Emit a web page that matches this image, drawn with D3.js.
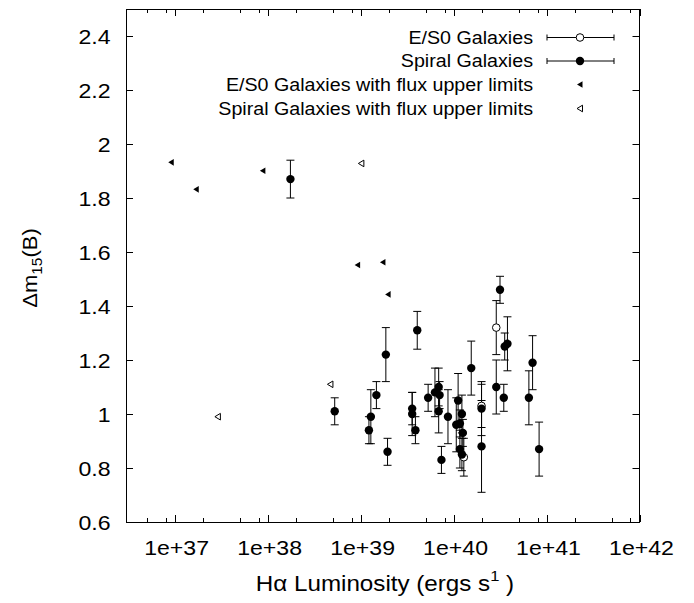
<!DOCTYPE html>
<html><head><meta charset="utf-8">
<script src="https://cdn.jsdelivr.net/npm/d3@7"></script>
<style>body{margin:0;background:#fff}svg{display:block}text{font-family:"Liberation Sans",Arial,Helvetica,sans-serif;fill:#000}</style>
</head><body><svg id="c" width="694" height="603"></svg>
<script>
// ---- data ----
const xTickValues = [1e37, 1e38, 1e39, 1e40, 1e41, 1e42];
const xTickLabels = ["1e+37", "1e+38", "1e+39", "1e+40", "1e+41", "1e+42"];
const yTickValues = [0.6, 0.8, 1.0, 1.2, 1.4, 1.6, 1.8, 2.0, 2.2, 2.4];
const yTickLabels = ["0.6", "0.8", "1", "1.2", "1.4", "1.6", "1.8", "2", "2.2", "2.4"];
const legendLabels = ["E/S0 Galaxies", "Spiral Galaxies", "E/S0 Galaxies with flux upper limits", "Spiral Galaxies with flux upper limits"];

// E/S0 galaxies (open circles): luminosity, dm15, error
const es0L   = [2.88e40, 2.0e40, 1.29e40];
const es0Dm  = [1.32, 1.03, 0.84];
const es0Err = [0.10, 0.08, 0.07];

// Spiral galaxies (filled circles)
const spL = [1.76e38, 5.27e38, 1.29e39, 1.23e39, 1.48e39, 1.87e39, 1.95e39, 3.59e39, 3.59e39, 3.89e39,
             4.07e39, 5.33e39, 6.31e39, 6.92e39, 7.08e39, 6.92e39, 7.41e39, 8.71e39, 1.12e40, 1.07e40,
             1.23e40, 1.17e40, 1.26e40, 1.17e40, 1.23e40, 1.55e40, 2.0e40, 2.0e40, 2.88e40, 3.16e40,
             3.47e40, 3.55e40, 3.8e40, 6.46e40, 7.08e40, 8.32e40];
const spDm = [1.87, 1.01, 0.99, 0.94, 1.07, 1.22, 0.86, 1.02, 1.00, 0.94,
              1.31, 1.06, 1.08, 1.10, 1.07, 1.01, 0.83, 0.99, 1.05, 0.96,
              1.00, 0.965, 0.93, 0.87, 0.85, 1.17, 1.02, 0.88, 1.10, 1.46,
              1.06, 1.25, 1.26, 1.06, 1.19, 0.87];
const spErr = [0.07, 0.05, 0.10, 0.05, 0.05, 0.10, 0.05, 0.06, 0.08, 0.05,
               0.07, 0.05, 0.09, 0.07, 0.05, 0.08, 0.05, 0.10, 0.10, 0.10,
               0.07, 0.05, 0.05, 0.07, 0.06, 0.10, 0.10, 0.17, 0.10, 0.05,
               0.05, 0.05, 0.10, 0.10, 0.10, 0.10];

// E/S0 upper limits (filled left triangles)
const es0UlL  = [9.2e36, 1.71e37, 8.9e37, 9.3e38, 1.74e39, 1.98e39];
const es0UlDm = [1.932, 1.832, 1.901, 1.552, 1.562, 1.443];
// Spiral upper limits (open left triangles)
const spUlL  = [1.02e39, 4.74e38, 2.92e37];
const spUlDm = [1.928, 1.11, 0.99];

// ---- drawing ----
const svg = d3.select("#c");
const L = 126, R = 639.5, T = 9, B = 522;
const x = d3.scaleLog().domain([3e36, 1e42]).range([L, R]);
const y = d3.scaleLinear().domain([0.6, 2.5]).range([B, T]);
const SX = 1.1;

// minor ticks at 2,5,8 of each decade
const minor = [];
for (let e = 36; e <= 41; e++) [2, 5, 8].forEach(m => { const v = m * Math.pow(10, e); if (v > 3e36 && v < 1e42) minor.push(v); });

const axes = svg.append("g").attr("stroke", "#000").attr("stroke-width", 1).attr("fill", "none");
xTickValues.forEach(v => {
  const px = Math.round(x(v)) + 0.5;
  axes.append("line").attr("x1", px).attr("x2", px).attr("y1", B).attr("y2", B - 7);
  axes.append("line").attr("x1", px).attr("x2", px).attr("y1", T).attr("y2", T + 7);
});
minor.forEach(v => {
  const px = Math.round(x(v)) + 0.5;
  axes.append("line").attr("x1", px).attr("x2", px).attr("y1", B).attr("y2", B - 4);
  axes.append("line").attr("x1", px).attr("x2", px).attr("y1", T).attr("y2", T + 4);
});
yTickValues.forEach(v => {
  const py = Math.round(y(v)) + 0.5;
  axes.append("line").attr("x1", L).attr("x2", L + 7).attr("y1", py).attr("y2", py);
  axes.append("line").attr("x1", R).attr("x2", R - 7).attr("y1", py).attr("y2", py);
});
axes.append("rect").attr("x", L + 0.5).attr("y", T + 0.5).attr("width", R - L - 0.5).attr("height", B - T);

function stext(g, tx, ty, str, size, anchor, sx) {
  return g.append("g").attr("transform", `translate(${tx},${ty}) scale(${sx || SX},1)`)
    .append("text").attr("font-size", size).attr("text-anchor", anchor).text(str);
}
const labels = svg.append("g");
xTickValues.forEach((v, i) => stext(labels, x(v) + 2, 555, xTickLabels[i], 21, "middle"));
yTickValues.forEach((v, i) => stext(labels, 110.5, y(v) + 7.5, yTickLabels[i], 21, "end"));

// axis titles
const yl = svg.append("g").attr("transform", `translate(37,268) rotate(-90) scale(${SX},1)`)
  .append("text").attr("font-size", 20).attr("text-anchor", "middle");
yl.append("tspan").text("Δm");
yl.append("tspan").attr("font-size", 14).attr("dy", 5).text("15");
yl.append("tspan").attr("dy", -5).text("(B)");

const xl = svg.append("g").attr("transform", `translate(385,591) scale(${SX},1)`)
  .append("text").attr("font-size", 22).attr("text-anchor", "middle");
xl.append("tspan").text("Hα Luminosity (ergs s");
xl.append("tspan").attr("font-size", 15).attr("dy", -10).text("1");
xl.append("tspan").attr("dy", 10).text(" )");

// marks
const plot = svg.append("g");
function errbars(Ls, Ds, Es) {
  const g = plot.append("g").attr("stroke", "#000").attr("stroke-width", 1);
  Ls.forEach((l, i) => {
    const px = x(l), y1 = y(Ds[i] + Es[i]), y2 = y(Ds[i] - Es[i]);
    g.append("line").attr("x1", px).attr("x2", px).attr("y1", y1).attr("y2", y2);
    g.append("line").attr("x1", px - 4).attr("x2", px + 4).attr("y1", y1).attr("y2", y1);
    g.append("line").attr("x1", px - 4).attr("x2", px + 4).attr("y1", y2).attr("y2", y2);
  });
}
errbars(es0L, es0Dm, es0Err);
errbars(spL, spDm, spErr);
plot.append("g").selectAll("circle").data(es0L).join("circle")
  .attr("cx", d => x(d)).attr("cy", (d, i) => y(es0Dm[i])).attr("r", 3.8)
  .attr("fill", "#fff").attr("stroke", "#000").attr("stroke-width", 1);
plot.append("g").selectAll("circle").data(spL).join("circle")
  .attr("cx", d => x(d)).attr("cy", (d, i) => y(spDm[i])).attr("r", 4.2).attr("fill", "#000");

const tri = "M-3,0L2.5,-3.3L2.5,3.3Z";
plot.append("g").selectAll("path").data(es0UlL).join("path")
  .attr("d", tri).attr("transform", (d, i) => `translate(${x(d)},${y(es0UlDm[i])})`).attr("fill", "#000");
plot.append("g").selectAll("path").data(spUlL).join("path")
  .attr("d", tri).attr("transform", (d, i) => `translate(${x(d)},${y(spUlDm[i])})`)
  .attr("fill", "#fff").attr("stroke", "#000").attr("stroke-width", 1);

// legend
const leg = svg.append("g");
const rowsY = [37.5, 61, 84.5, 108.5];
legendLabels.forEach((t, i) => stext(leg, 533, rowsY[i] + 6.3, t, 17.5, "end", 1.124));
const lg = leg.append("g").attr("stroke", "#000").attr("stroke-width", 1);
[0, 1].forEach(i => {
  const yy = rowsY[i];
  lg.append("line").attr("x1", 547).attr("x2", 614).attr("y1", yy).attr("y2", yy);
  lg.append("line").attr("x1", 547).attr("x2", 547).attr("y1", yy - 3).attr("y2", yy + 3);
  lg.append("line").attr("x1", 614).attr("x2", 614).attr("y1", yy - 3).attr("y2", yy + 3);
});
leg.append("circle").attr("cx", 580).attr("cy", rowsY[0]).attr("r", 3.8).attr("fill", "#fff").attr("stroke", "#000");
leg.append("circle").attr("cx", 580).attr("cy", rowsY[1]).attr("r", 4.2).attr("fill", "#000");
leg.append("path").attr("d", tri).attr("transform", `translate(580,${rowsY[2]})`).attr("fill", "#000");
leg.append("path").attr("d", tri).attr("transform", `translate(580,${rowsY[3]})`).attr("fill", "#fff").attr("stroke", "#000");
</script></body></html>
